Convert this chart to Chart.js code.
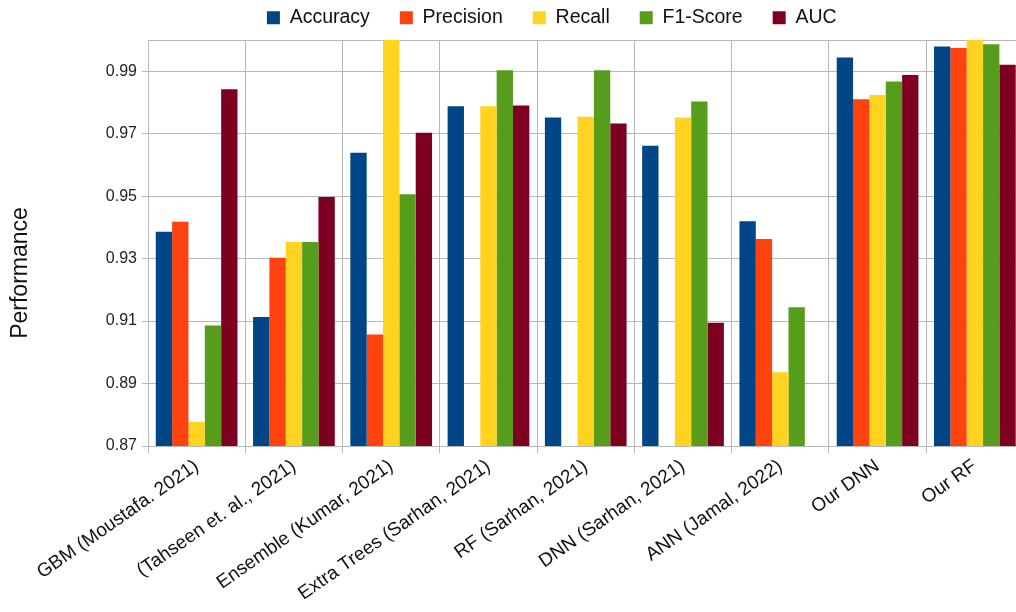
<!DOCTYPE html>
<html>
<head>
<meta charset="utf-8">
<script src="https://cdn.jsdelivr.net/npm/chart.js@4.4.1/dist/chart.umd.min.js"></script>
<style>
    html, body { margin: 0; padding: 0; background: #fff; overflow: hidden; }
    canvas { display: block; }
</style>
</head>
<body>
<canvas id="perfChart" width="1030" height="612"></canvas>
<script>
// Các mô hình so sánh
const models = [
    'GBM (Moustafa. 2021)',
    '(Tahseen et. al., 2021)',
    'Ensemble (Kumar, 2021)',
    'Extra Trees (Sarhan, 2021)',
    'RF (Sarhan, 2021)',
    'DNN (Sarhan, 2021)',
    'ANN (Jamal, 2022)',
    'Our DNN',
    'Our RF'
];

// Giá trị các chỉ số (null = không có số liệu)
const accuracy  = [0.9386, 0.9113, 0.9639, 0.9788, 0.9752, 0.9661, 0.9420, 0.9944, 0.9979];
const precision = [0.9418, 0.9303, 0.9057, null,   null,   null,   0.9363, 0.9810, 0.9974];
const recall    = [0.8778, 0.9353, 1.0000, 0.9788, 0.9754, 0.9752, 0.8936, 0.9824, 1.0000];
const f1Score   = [0.9086, 0.9353, 0.9506, 0.9903, 0.9903, 0.9803, 0.9144, 0.9867, 0.9986];
const auc       = [0.9842, 0.9497, 0.9703, 0.9790, 0.9733, 0.9095, null,   0.9888, 0.9921];

// Trục Y
const yTicks = [0.87, 0.89, 0.91, 0.93, 0.95, 0.97, 0.99];
const yMin = 0.87;
const yMax = 1.0;

const FONT = 'Liberation Sans, Arial, sans-serif';
const GRID = '#b8b8b8';

// Vẽ tiêu đề trục Y
const yTitlePlugin = {
    id: 'yTitle',
    afterDraw(chart) {
        const c = chart.ctx;
        c.save();
        c.translate(21, 273);
        c.rotate(-Math.PI / 2);
        c.font = '23px ' + FONT;
        c.fillStyle = '#111';
        c.textAlign = 'center';
        c.textBaseline = 'middle';
        c.fillText('Performance', 0, 0);
        c.restore();
    }
};

// Cố định chiều cao chú thích và dời vị trí
const legendPlugin = {
    id: 'legendFix',
    beforeInit(chart) {
        const fit = chart.legend.fit;
        chart.legend.fit = function () {
            fit.call(this);
            this.height = 40;
        };
    },
    afterLayout(chart) {
        chart.legend.top -= 22;
        chart.legend.left += 40;
        chart.legend.right += 40;
    }
};

const ctx = document.getElementById('perfChart').getContext('2d');

const perfChart = new Chart(ctx, {
    type: 'bar',
    data: {
        labels: models,
        datasets: [
            { label: 'Accuracy',  data: accuracy,  backgroundColor: '#004586' },
            { label: 'Precision', data: precision, backgroundColor: '#ff420e' },
            { label: 'Recall',    data: recall,    backgroundColor: '#ffd320' },
            { label: 'F1-Score',  data: f1Score,   backgroundColor: '#579d1c' },
            { label: 'AUC',       data: auc,       backgroundColor: '#7e0021' }
        ]
    },
    options: {
        responsive: false,
        animation: false,
        layout: { padding: { left: 0, right: 6.5, top: 0, bottom: 0 } },
        datasets: {
            bar: { categoryPercentage: 0.84, barPercentage: 1.0 }
        },
        plugins: {
            legend: {
                position: 'top',
                labels: {
                    boxWidth: 13,
                    boxHeight: 13,
                    padding: 30,
                    color: '#111',
                    font: { family: FONT, size: 19.5 }
                }
            },
            tooltip: { enabled: false }
        },
        scales: {
            x: {
                grid: { color: GRID, tickLength: 7, offset: true },
                border: { color: GRID },
                ticks: {
                    color: '#111',
                    minRotation: 35,
                    maxRotation: 35,
                    autoSkip: false,
                    padding: 2,
                    font: { family: FONT, size: 19 }
                },
                afterFit(scale) { scale.height = 166; }
            },
            y: {
                min: yMin,
                max: yMax,
                grid: {
                    color: GRID,
                    tickLength: 6,
                    tickColor: (c) => c.tick && c.tick.value === yMax ? 'rgba(0,0,0,0)' : GRID
                },
                border: { color: GRID },
                ticks: {
                    color: '#222',
                    padding: 5,
                    font: { family: FONT, size: 16 },
                    callback: (v) => v === yMax ? '' : v.toFixed(2)
                },
                afterBuildTicks(scale) {
                    scale.ticks = yTicks.concat([yMax]).map(v => ({ value: v }));
                },
                afterFit(scale) { scale.width = 148; }
            }
        }
    },
    plugins: [yTitlePlugin, legendPlugin]
});
</script>
</body>
</html>
